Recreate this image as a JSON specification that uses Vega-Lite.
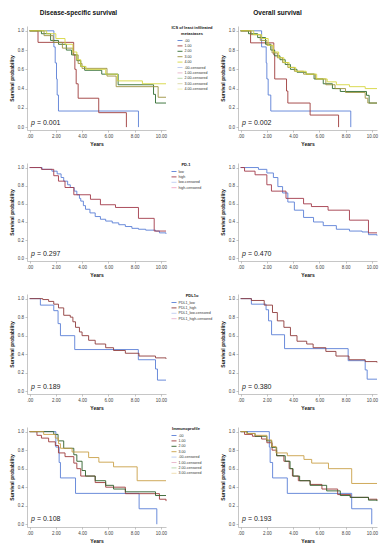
{
"$schema": "https://vega.github.io/schema/vega-lite/v6.json",
"autosize": {"type": "pad"},
"padding": {"left": 9, "top": 9, "right": 0, "bottom": 0},
"background": "white",
"config": {
 "font": "Liberation Sans",
 "view": {"stroke": null},
 "axis": {"grid": false, "labelOverlap": false, "tickCount": 12, "domainColor": "#a0a0a0", "domainWidth": 0.6, "tickColor": "#a0a0a0", "tickSize": 2, "tickWidth": 0.6, "labelFontSize": 4.5, "labelColor": "#444", "labelPadding": 1.5, "titleFontSize": 5, "titleFontWeight": "bold", "titleColor": "#111", "titlePadding": 3},
 "legend": {"offset": 3, "padding": 0, "titleFontSize": 4, "titleFontWeight": "bold", "titleColor": "#111", "titlePadding": 1.5, "titleAnchor": "middle", "labelFontSize": 3.6, "labelColor": "#333", "labelOffset": 1.5, "rowPadding": 0.4, "symbolType": "stroke", "symbolSize": 25, "symbolStrokeWidth": 1, "titleLimit": 100, "labelLimit": 60},
 "title": {"fontSize": 6.5, "fontWeight": "bold", "color": "#111", "offset": 10},
 "line": {"strokeWidth": 0.9}
},
"datasets": {
 "dss_ics": [
  {"g":".00","t":0,"s":1},{"g":".00","t":1.85,"s":0.833},{"g":".00","t":1.95,"s":0.667},{"g":".00","t":2.05,"s":0.5},{"g":".00","t":2.1,"s":0.333},{"g":".00","t":2.2,"s":0.167},{"g":".00","t":8.3,"s":0},
  {"g":"1.00","t":0,"s":1},{"g":"1.00","t":0.64,"s":0.88},{"g":"1.00","t":3.36,"s":0.75},{"g":"1.00","t":3.45,"s":0.6},{"g":"1.00","t":3.55,"s":0.45},{"g":"1.00","t":3.7,"s":0.3},{"g":"1.00","t":5.27,"s":0.15},{"g":"1.00","t":7.38,"s":0},
  {"g":"2.00","t":0,"s":1},{"g":"2.00","t":0.9,"s":0.97},{"g":"2.00","t":1.6,"s":0.9},{"g":"2.00","t":2.2,"s":0.86},{"g":"2.00","t":2.8,"s":0.8},{"g":"2.00","t":3.2,"s":0.75},{"g":"2.00","t":3.6,"s":0.69},{"g":"2.00","t":3.9,"s":0.63},{"g":"2.00","t":4.2,"s":0.59},{"g":"2.00","t":5.5,"s":0.55},{"g":"2.00","t":6.75,"s":0.44},{"g":"2.00","t":9.45,"s":0.34},{"g":"2.00","t":9.6,"s":0.25},{"g":"2.00","t":10.4,"s":0.25},
  {"g":"3.00","t":0,"s":1},{"g":"3.00","t":1.1,"s":0.95},{"g":"3.00","t":1.8,"s":0.88},{"g":"3.00","t":2.5,"s":0.82},{"g":"3.00","t":3.3,"s":0.75},{"g":"3.00","t":3.7,"s":0.66},{"g":"3.00","t":4.0,"s":0.61},{"g":"3.00","t":5.9,"s":0.53},{"g":"3.00","t":6.6,"s":0.42},{"g":"3.00","t":9.8,"s":0.31},{"g":"3.00","t":10.4,"s":0.31},
  {"g":"4.00","t":0,"s":1},{"g":"4.00","t":1.3,"s":0.97},{"g":"4.00","t":2.0,"s":0.92},{"g":"4.00","t":2.7,"s":0.86},{"g":"4.00","t":3.3,"s":0.78},{"g":"4.00","t":3.6,"s":0.7},{"g":"4.00","t":3.9,"s":0.63},{"g":"4.00","t":4.3,"s":0.6},{"g":"4.00","t":5.8,"s":0.55},{"g":"4.00","t":6.7,"s":0.48},{"g":"4.00","t":8.6,"s":0.45},{"g":"4.00","t":10.4,"s":0.45}
 ],
 "os_ics": [
  {"g":".00","t":0,"s":1},{"g":".00","t":1.6,"s":0.833},{"g":".00","t":1.95,"s":0.667},{"g":".00","t":2.0,"s":0.5},{"g":".00","t":2.1,"s":0.333},{"g":".00","t":2.3,"s":0.167},{"g":".00","t":8.4,"s":0},
  {"g":"1.00","t":0,"s":1},{"g":"1.00","t":0.76,"s":0.875},{"g":"1.00","t":2.53,"s":0.75},{"g":"1.00","t":2.6,"s":0.5},{"g":"1.00","t":3.5,"s":0.375},{"g":"1.00","t":3.6,"s":0.25},{"g":"1.00","t":5.3,"s":0.125},{"g":"1.00","t":7.47,"s":0},
  {"g":"2.00","t":0,"s":1},{"g":"2.00","t":0.6,"s":0.97},{"g":"2.00","t":1.3,"s":0.93},{"g":"2.00","t":1.9,"s":0.86},{"g":"2.00","t":2.3,"s":0.8},{"g":"2.00","t":2.6,"s":0.74},{"g":"2.00","t":3.0,"s":0.7},{"g":"2.00","t":3.4,"s":0.65},{"g":"2.00","t":3.8,"s":0.6},{"g":"2.00","t":4.3,"s":0.57},{"g":"2.00","t":5.0,"s":0.55},{"g":"2.00","t":5.6,"s":0.5},{"g":"2.00","t":6.3,"s":0.45},{"g":"2.00","t":7.0,"s":0.4},{"g":"2.00","t":7.6,"s":0.37},{"g":"2.00","t":9.6,"s":0.33},{"g":"2.00","t":9.8,"s":0.25},{"g":"2.00","t":10.4,"s":0.25},
  {"g":"3.00","t":0,"s":1},{"g":"3.00","t":0.8,"s":0.96},{"g":"3.00","t":1.5,"s":0.9},{"g":"3.00","t":2.0,"s":0.85},{"g":"3.00","t":2.4,"s":0.77},{"g":"3.00","t":2.8,"s":0.72},{"g":"3.00","t":3.2,"s":0.67},{"g":"3.00","t":3.6,"s":0.62},{"g":"3.00","t":4.1,"s":0.58},{"g":"3.00","t":4.8,"s":0.55},{"g":"3.00","t":5.7,"s":0.5},{"g":"3.00","t":6.5,"s":0.44},{"g":"3.00","t":7.2,"s":0.4},{"g":"3.00","t":8.0,"s":0.36},{"g":"3.00","t":9.5,"s":0.3},{"g":"3.00","t":9.7,"s":0.25},{"g":"3.00","t":10.4,"s":0.25},
  {"g":"4.00","t":0,"s":1},{"g":"4.00","t":1.0,"s":0.96},{"g":"4.00","t":1.6,"s":0.92},{"g":"4.00","t":2.1,"s":0.85},{"g":"4.00","t":2.5,"s":0.78},{"g":"4.00","t":2.9,"s":0.72},{"g":"4.00","t":3.3,"s":0.67},{"g":"4.00","t":3.7,"s":0.62},{"g":"4.00","t":4.2,"s":0.58},{"g":"4.00","t":5.0,"s":0.55},{"g":"4.00","t":5.8,"s":0.5},{"g":"4.00","t":6.6,"s":0.47},{"g":"4.00","t":7.3,"s":0.44},{"g":"4.00","t":8.3,"s":0.42},{"g":"4.00","t":9.5,"s":0.4},{"g":"4.00","t":10.4,"s":0.4}
 ],
 "dss_pd1": [
  {"g":"low","t":0,"s":1},{"g":"low","t":0.95,"s":0.98},{"g":"low","t":1.7,"s":0.96},{"g":"low","t":2.1,"s":0.93},{"g":"low","t":2.4,"s":0.89},{"g":"low","t":2.6,"s":0.85},{"g":"low","t":2.9,"s":0.81},{"g":"low","t":3.1,"s":0.78},{"g":"low","t":3.4,"s":0.74},{"g":"low","t":3.6,"s":0.7},{"g":"low","t":3.8,"s":0.66},{"g":"low","t":3.9,"s":0.63},{"g":"low","t":4.1,"s":0.58},{"g":"low","t":4.26,"s":0.54},{"g":"low","t":4.6,"s":0.5},{"g":"low","t":5.0,"s":0.46},{"g":"low","t":5.4,"s":0.43},{"g":"low","t":5.8,"s":0.41},{"g":"low","t":6.3,"s":0.39},{"g":"low","t":6.8,"s":0.37},{"g":"low","t":7.3,"s":0.35},{"g":"low","t":7.8,"s":0.33},{"g":"low","t":8.3,"s":0.32},{"g":"low","t":8.85,"s":0.31},{"g":"low","t":9.6,"s":0.3},{"g":"low","t":9.9,"s":0.28},{"g":"low","t":10.4,"s":0.27},
  {"g":"high","t":0,"s":1},{"g":"high","t":0.9,"s":0.98},{"g":"high","t":1.84,"s":0.91},{"g":"high","t":2.2,"s":0.85},{"g":"high","t":2.7,"s":0.78},{"g":"high","t":3.37,"s":0.7},{"g":"high","t":4.64,"s":0.65},{"g":"high","t":5.4,"s":0.59},{"g":"high","t":6.55,"s":0.56},{"g":"high","t":8.3,"s":0.44},{"g":"high","t":9.5,"s":0.3},{"g":"high","t":10.4,"s":0.3}
 ],
 "os_pd1": [
  {"g":"low","t":0,"s":1},{"g":"low","t":1.36,"s":0.98},{"g":"low","t":2.0,"s":0.94},{"g":"low","t":2.5,"s":0.89},{"g":"low","t":2.84,"s":0.79},{"g":"low","t":3.2,"s":0.72},{"g":"low","t":3.6,"s":0.62},{"g":"low","t":4.1,"s":0.53},{"g":"low","t":4.8,"s":0.45},{"g":"low","t":5.56,"s":0.4},{"g":"low","t":6.3,"s":0.36},{"g":"low","t":7.3,"s":0.32},{"g":"low","t":8.3,"s":0.3},{"g":"low","t":9.26,"s":0.29},{"g":"low","t":9.75,"s":0.26},{"g":"low","t":10.4,"s":0.25},
  {"g":"high","t":0,"s":1},{"g":"high","t":0.3,"s":0.96},{"g":"high","t":1.1,"s":0.92},{"g":"high","t":2.0,"s":0.81},{"g":"high","t":2.35,"s":0.74},{"g":"high","t":3.46,"s":0.66},{"g":"high","t":4.8,"s":0.6},{"g":"high","t":5.4,"s":0.57},{"g":"high","t":6.67,"s":0.53},{"g":"high","t":8.3,"s":0.42},{"g":"high","t":9.75,"s":0.28},{"g":"high","t":10.4,"s":0.28}
 ],
 "dss_pdl1": [
  {"g":"PDL1_low","t":0,"s":1},{"g":"PDL1_low","t":0.82,"s":0.93},{"g":"PDL1_low","t":1.84,"s":0.87},{"g":"PDL1_low","t":2.17,"s":0.73},{"g":"PDL1_low","t":2.35,"s":0.6},{"g":"PDL1_low","t":3.44,"s":0.45},{"g":"PDL1_low","t":8.29,"s":0.34},{"g":"PDL1_low","t":9.6,"s":0.24},{"g":"PDL1_low","t":9.75,"s":0.12},{"g":"PDL1_low","t":10.4,"s":0.12},
  {"g":"PDL1_high","t":0,"s":1},{"g":"PDL1_high","t":1.0,"s":0.99},{"g":"PDL1_high","t":1.45,"s":0.97},{"g":"PDL1_high","t":1.84,"s":0.94},{"g":"PDL1_high","t":2.2,"s":0.9},{"g":"PDL1_high","t":2.6,"s":0.82},{"g":"PDL1_high","t":3.1,"s":0.8},{"g":"PDL1_high","t":3.3,"s":0.75},{"g":"PDL1_high","t":3.5,"s":0.69},{"g":"PDL1_high","t":3.8,"s":0.64},{"g":"PDL1_high","t":4.0,"s":0.6},{"g":"PDL1_high","t":4.5,"s":0.55},{"g":"PDL1_high","t":5.0,"s":0.51},{"g":"PDL1_high","t":5.8,"s":0.47},{"g":"PDL1_high","t":6.4,"s":0.44},{"g":"PDL1_high","t":7.3,"s":0.41},{"g":"PDL1_high","t":8.34,"s":0.38},{"g":"PDL1_high","t":9.6,"s":0.36},{"g":"PDL1_high","t":10.4,"s":0.35}
 ],
 "os_pdl1": [
  {"g":"PDL1_low","t":0,"s":1},{"g":"PDL1_low","t":0.82,"s":0.94},{"g":"PDL1_low","t":1.94,"s":0.88},{"g":"PDL1_low","t":2.13,"s":0.76},{"g":"PDL1_low","t":2.36,"s":0.61},{"g":"PDL1_low","t":3.35,"s":0.46},{"g":"PDL1_low","t":8.2,"s":0.33},{"g":"PDL1_low","t":9.5,"s":0.23},{"g":"PDL1_low","t":9.65,"s":0.13},{"g":"PDL1_low","t":10.4,"s":0.13},
  {"g":"PDL1_high","t":0,"s":1},{"g":"PDL1_high","t":0.82,"s":0.98},{"g":"PDL1_high","t":1.8,"s":0.93},{"g":"PDL1_high","t":2.43,"s":0.85},{"g":"PDL1_high","t":2.8,"s":0.76},{"g":"PDL1_high","t":3.3,"s":0.69},{"g":"PDL1_high","t":3.8,"s":0.6},{"g":"PDL1_high","t":4.3,"s":0.54},{"g":"PDL1_high","t":5.04,"s":0.51},{"g":"PDL1_high","t":5.53,"s":0.47},{"g":"PDL1_high","t":6.5,"s":0.43},{"g":"PDL1_high","t":7.27,"s":0.38},{"g":"PDL1_high","t":8.26,"s":0.34},{"g":"PDL1_high","t":9.5,"s":0.32},{"g":"PDL1_high","t":10.4,"s":0.31}
 ],
 "dss_imm": [
  {"g":".00","t":0,"s":1},{"g":".00","t":2.0,"s":0.833},{"g":".00","t":2.25,"s":0.667},{"g":".00","t":2.35,"s":0.5},{"g":".00","t":3.5,"s":0.333},{"g":".00","t":8.35,"s":0.167},{"g":".00","t":9.7,"s":0},
  {"g":"1.00","t":0,"s":1},{"g":"1.00","t":0.56,"s":0.96},{"g":"1.00","t":0.9,"s":0.93},{"g":"1.00","t":1.45,"s":0.89},{"g":"1.00","t":1.96,"s":0.85},{"g":"1.00","t":2.2,"s":0.77},{"g":"1.00","t":2.7,"s":0.73},{"g":"1.00","t":3.37,"s":0.66},{"g":"1.00","t":3.6,"s":0.6},{"g":"1.00","t":3.9,"s":0.52},{"g":"1.00","t":5.0,"s":0.45},{"g":"1.00","t":5.8,"s":0.4},{"g":"1.00","t":7.3,"s":0.33},{"g":"1.00","t":9.9,"s":0.27},{"g":"1.00","t":10.4,"s":0.25},
  {"g":"2.00","t":0,"s":1},{"g":"2.00","t":1.84,"s":0.97},{"g":"2.00","t":2.17,"s":0.9},{"g":"2.00","t":2.6,"s":0.82},{"g":"2.00","t":3.37,"s":0.75},{"g":"2.00","t":3.6,"s":0.68},{"g":"2.00","t":4.0,"s":0.58},{"g":"2.00","t":4.26,"s":0.52},{"g":"2.00","t":5.0,"s":0.47},{"g":"2.00","t":5.8,"s":0.42},{"g":"2.00","t":6.4,"s":0.38},{"g":"2.00","t":7.3,"s":0.35},{"g":"2.00","t":9.6,"s":0.31},{"g":"2.00","t":10.4,"s":0.31},
  {"g":"3.00","t":0,"s":1},{"g":"3.00","t":1.07,"s":0.97},{"g":"3.00","t":1.96,"s":0.93},{"g":"3.00","t":2.2,"s":0.87},{"g":"3.00","t":2.35,"s":0.82},{"g":"3.00","t":3.24,"s":0.78},{"g":"3.00","t":4.5,"s":0.72},{"g":"3.00","t":5.28,"s":0.67},{"g":"3.00","t":6.4,"s":0.62},{"g":"3.00","t":8.2,"s":0.47},{"g":"3.00","t":10.4,"s":0.47}
 ],
 "os_imm": [
  {"g":".00","t":0,"s":1},{"g":".00","t":2.19,"s":0.833},{"g":".00","t":2.25,"s":0.667},{"g":".00","t":2.44,"s":0.5},{"g":".00","t":3.56,"s":0.333},{"g":".00","t":8.47,"s":0.167},{"g":".00","t":10.0,"s":0},
  {"g":"1.00","t":0,"s":1},{"g":"1.00","t":0.3,"s":0.97},{"g":"1.00","t":0.9,"s":0.95},{"g":"1.00","t":1.6,"s":0.92},{"g":"1.00","t":2.0,"s":0.88},{"g":"1.00","t":2.4,"s":0.8},{"g":"1.00","t":2.75,"s":0.74},{"g":"1.00","t":3.3,"s":0.68},{"g":"1.00","t":3.7,"s":0.6},{"g":"1.00","t":3.95,"s":0.52},{"g":"1.00","t":4.4,"s":0.47},{"g":"1.00","t":5.3,"s":0.43},{"g":"1.00","t":6.2,"s":0.38},{"g":"1.00","t":7.4,"s":0.32},{"g":"1.00","t":8.4,"s":0.29},{"g":"1.00","t":9.75,"s":0.27},{"g":"1.00","t":10.4,"s":0.26},
  {"g":"2.00","t":0,"s":1},{"g":"2.00","t":0.5,"s":0.98},{"g":"2.00","t":1.1,"s":0.95},{"g":"2.00","t":2.0,"s":0.9},{"g":"2.00","t":2.37,"s":0.83},{"g":"2.00","t":2.75,"s":0.74},{"g":"2.00","t":3.4,"s":0.68},{"g":"2.00","t":3.77,"s":0.6},{"g":"2.00","t":4.0,"s":0.52},{"g":"2.00","t":4.5,"s":0.47},{"g":"2.00","t":5.3,"s":0.42},{"g":"2.00","t":6.56,"s":0.36},{"g":"2.00","t":7.6,"s":0.31},{"g":"2.00","t":8.35,"s":0.29},{"g":"2.00","t":9.75,"s":0.26},{"g":"2.00","t":10.4,"s":0.25},
  {"g":"3.00","t":0,"s":1},{"g":"3.00","t":0.46,"s":0.98},{"g":"3.00","t":1.1,"s":0.96},{"g":"3.00","t":2.0,"s":0.91},{"g":"3.00","t":2.37,"s":0.84},{"g":"3.00","t":2.7,"s":0.77},{"g":"3.00","t":3.56,"s":0.74},{"g":"3.00","t":4.83,"s":0.7},{"g":"3.00","t":5.42,"s":0.66},{"g":"3.00","t":6.7,"s":0.6},{"g":"3.00","t":8.47,"s":0.44},{"g":"3.00","t":10.4,"s":0.44}
 ]
},
"columns": 2,
"bounds": "flush",
"spacing": {"row": 33, "column": 72},
"resolve": {"scale": {"color": "independent", "x": "independent", "y": "independent"}, "legend": {"color": "independent"}},
"concat": [
 {"width": 139, "height": 104,
  "title": {"text": "Disease-specific survival", "anchor": "middle", "dx": -18},
  "layer": [
   {"data": {"name": "dss_ics"}, "mark": {"type": "line", "interpolate": "step-after"},
    "encoding": {
     "x": {"field": "t", "type": "quantitative", "scale": {"domain": [-0.2, 10.4], "nice": false, "zero": false}, "axis": {"values": [0,2,4,6,8,10], "tickCount": 12, "labelOverlap": false, "labelExpr": "datum.value == 0 ? '.00' : format(datum.value, '.2f')", "title": "Years"}},
     "y": {"field": "s", "type": "quantitative", "scale": {"domain": [-0.03, 1.05], "nice": false}, "axis": {"values": [0,0.2,0.4,0.6,0.8,1], "tickCount": 12, "labelOverlap": false, "format": ".1f", "title": "Survival probability"}},
     "color": {"field": "g", "type": "nominal", "scale": {"domain": [".00","1.00","2.00","3.00","4.00",".00-censored","1.00-censored","2.00-censored","3.00-censored","4.00-censored"], "range": ["#5a7fd6","#9e3b3b","#2f6b2f","#9c9240","#d6d640","#b9c8f0","#e8b4c8","#b5d6a8","#ddd8a6","#f0f0a8"]}, "legend": {"title": ["ICS of least infiltrated", "metastases"]}}
    }},
   {"data": {"values": [{}]}, "mark": {"type": "text", "align": "left", "baseline": "alphabetic", "fontStyle": "italic", "fontSize": 7, "color": "#222"}, "encoding": {"x": {"datum": 0.1}, "y": {"datum": 0.02}, "text": {"value": "p"}}},
   {"data": {"values": [{}]}, "mark": {"type": "text", "align": "left", "baseline": "alphabetic", "dx": 6, "fontSize": 7, "color": "#222"}, "encoding": {"x": {"datum": 0.1}, "y": {"datum": 0.02}, "text": {"value": "= 0.001"}}}
  ]},
 {"width": 139, "height": 104,
  "title": {"text": "Overall survival", "anchor": "middle", "dx": -30},
  "layer": [
   {"data": {"name": "os_ics"}, "mark": {"type": "line", "interpolate": "step-after"},
    "encoding": {
     "x": {"field": "t", "type": "quantitative", "scale": {"domain": [-0.2, 10.4], "nice": false, "zero": false}, "axis": {"values": [0,2,4,6,8,10], "tickCount": 12, "labelOverlap": false, "labelExpr": "datum.value == 0 ? '.00' : format(datum.value, '.2f')", "title": "Years"}},
     "y": {"field": "s", "type": "quantitative", "scale": {"domain": [-0.03, 1.05], "nice": false}, "axis": {"values": [0,0.2,0.4,0.6,0.8,1], "tickCount": 12, "labelOverlap": false, "format": ".1f", "title": "Survival probability"}},
     "color": {"field": "g", "type": "nominal", "scale": {"domain": [".00","1.00","2.00","3.00","4.00"], "range": ["#5a7fd6","#9e3b3b","#2f6b2f","#9c9240","#d6d640"]}, "legend": null}
    }},
   {"data": {"values": [{}]}, "mark": {"type": "text", "align": "left", "baseline": "alphabetic", "fontStyle": "italic", "fontSize": 7, "color": "#222"}, "encoding": {"x": {"datum": 0.1}, "y": {"datum": 0.02}, "text": {"value": "p"}}},
   {"data": {"values": [{}]}, "mark": {"type": "text", "align": "left", "baseline": "alphabetic", "dx": 6, "fontSize": 7, "color": "#222"}, "encoding": {"x": {"datum": 0.1}, "y": {"datum": 0.02}, "text": {"value": "= 0.002"}}}
  ]},
 {"width": 139, "height": 98,
  "layer": [
   {"data": {"name": "dss_pd1"}, "mark": {"type": "line", "interpolate": "step-after"},
    "encoding": {
     "x": {"field": "t", "type": "quantitative", "scale": {"domain": [-0.2, 10.4], "nice": false, "zero": false}, "axis": {"values": [0,2,4,6,8,10], "tickCount": 12, "labelOverlap": false, "labelExpr": "datum.value == 0 ? '.00' : format(datum.value, '.2f')", "title": "Years"}},
     "y": {"field": "s", "type": "quantitative", "scale": {"domain": [-0.03, 1.05], "nice": false}, "axis": {"values": [0,0.2,0.4,0.6,0.8,1], "tickCount": 12, "labelOverlap": false, "format": ".1f", "title": "Survival probability"}},
     "color": {"field": "g", "type": "nominal", "scale": {"domain": ["low","high","low-censored","high-censored"], "range": ["#5a7fd6","#a33a4a","#c0cdf2","#f2a6c4"]}, "legend": {"title": "PD-1"}}
    }},
   {"data": {"values": [{}]}, "mark": {"type": "text", "align": "left", "baseline": "alphabetic", "fontStyle": "italic", "fontSize": 7, "color": "#222"}, "encoding": {"x": {"datum": 0.1}, "y": {"datum": 0.03}, "text": {"value": "p"}}},
   {"data": {"values": [{}]}, "mark": {"type": "text", "align": "left", "baseline": "alphabetic", "dx": 6, "fontSize": 7, "color": "#222"}, "encoding": {"x": {"datum": 0.1}, "y": {"datum": 0.03}, "text": {"value": "= 0.297"}}}
  ]},
 {"width": 139, "height": 98,
  "layer": [
   {"data": {"name": "os_pd1"}, "mark": {"type": "line", "interpolate": "step-after"},
    "encoding": {
     "x": {"field": "t", "type": "quantitative", "scale": {"domain": [-0.2, 10.4], "nice": false, "zero": false}, "axis": {"values": [0,2,4,6,8,10], "tickCount": 12, "labelOverlap": false, "labelExpr": "datum.value == 0 ? '.00' : format(datum.value, '.2f')", "title": "Years"}},
     "y": {"field": "s", "type": "quantitative", "scale": {"domain": [-0.03, 1.05], "nice": false}, "axis": {"values": [0,0.2,0.4,0.6,0.8,1], "tickCount": 12, "labelOverlap": false, "format": ".1f", "title": "Survival probability"}},
     "color": {"field": "g", "type": "nominal", "scale": {"domain": ["low","high"], "range": ["#5a7fd6","#a33a4a"]}, "legend": null}
    }},
   {"data": {"values": [{}]}, "mark": {"type": "text", "align": "left", "baseline": "alphabetic", "fontStyle": "italic", "fontSize": 7, "color": "#222"}, "encoding": {"x": {"datum": 0.1}, "y": {"datum": 0.03}, "text": {"value": "p"}}},
   {"data": {"values": [{}]}, "mark": {"type": "text", "align": "left", "baseline": "alphabetic", "dx": 6, "fontSize": 7, "color": "#222"}, "encoding": {"x": {"datum": 0.1}, "y": {"datum": 0.03}, "text": {"value": "= 0.470"}}}
  ]},
 {"width": 139, "height": 100,
  "layer": [
   {"data": {"name": "dss_pdl1"}, "mark": {"type": "line", "interpolate": "step-after"},
    "encoding": {
     "x": {"field": "t", "type": "quantitative", "scale": {"domain": [-0.2, 10.4], "nice": false, "zero": false}, "axis": {"values": [0,2,4,6,8,10], "tickCount": 12, "labelOverlap": false, "labelExpr": "datum.value == 0 ? '.00' : format(datum.value, '.2f')", "title": "Years"}},
     "y": {"field": "s", "type": "quantitative", "scale": {"domain": [-0.03, 1.05], "nice": false}, "axis": {"values": [0,0.2,0.4,0.6,0.8,1], "tickCount": 12, "labelOverlap": false, "format": ".1f", "title": "Survival probability"}},
     "color": {"field": "g", "type": "nominal", "scale": {"domain": ["PDL1_low","PDL1_high","PDL1_low-censored","PDL1_high-censored"], "range": ["#5a7fd6","#8e3b3b","#c0cdf2","#e8b4d0"]}, "legend": {"title": "PDL1o"}}
    }},
   {"data": {"values": [{}]}, "mark": {"type": "text", "align": "left", "baseline": "alphabetic", "fontStyle": "italic", "fontSize": 7, "color": "#222"}, "encoding": {"x": {"datum": 0.1}, "y": {"datum": 0.02}, "text": {"value": "p"}}},
   {"data": {"values": [{}]}, "mark": {"type": "text", "align": "left", "baseline": "alphabetic", "dx": 6, "fontSize": 7, "color": "#222"}, "encoding": {"x": {"datum": 0.1}, "y": {"datum": 0.02}, "text": {"value": "= 0.189"}}}
  ]},
 {"width": 139, "height": 100,
  "layer": [
   {"data": {"name": "os_pdl1"}, "mark": {"type": "line", "interpolate": "step-after"},
    "encoding": {
     "x": {"field": "t", "type": "quantitative", "scale": {"domain": [-0.2, 10.4], "nice": false, "zero": false}, "axis": {"values": [0,2,4,6,8,10], "tickCount": 12, "labelOverlap": false, "labelExpr": "datum.value == 0 ? '.00' : format(datum.value, '.2f')", "title": "Years"}},
     "y": {"field": "s", "type": "quantitative", "scale": {"domain": [-0.03, 1.05], "nice": false}, "axis": {"values": [0,0.2,0.4,0.6,0.8,1], "tickCount": 12, "labelOverlap": false, "format": ".1f", "title": "Survival probability"}},
     "color": {"field": "g", "type": "nominal", "scale": {"domain": ["PDL1_low","PDL1_high"], "range": ["#5a7fd6","#8e3b3b"]}, "legend": null}
    }},
   {"data": {"values": [{}]}, "mark": {"type": "text", "align": "left", "baseline": "alphabetic", "fontStyle": "italic", "fontSize": 7, "color": "#222"}, "encoding": {"x": {"datum": 0.1}, "y": {"datum": 0.02}, "text": {"value": "p"}}},
   {"data": {"values": [{}]}, "mark": {"type": "text", "align": "left", "baseline": "alphabetic", "dx": 6, "fontSize": 7, "color": "#222"}, "encoding": {"x": {"datum": 0.1}, "y": {"datum": 0.02}, "text": {"value": "= 0.380"}}}
  ]},
 {"width": 139, "height": 100,
  "layer": [
   {"data": {"name": "dss_imm"}, "mark": {"type": "line", "interpolate": "step-after"},
    "encoding": {
     "x": {"field": "t", "type": "quantitative", "scale": {"domain": [-0.2, 10.4], "nice": false, "zero": false}, "axis": {"values": [0,2,4,6,8,10], "tickCount": 12, "labelOverlap": false, "labelExpr": "datum.value == 0 ? '.00' : format(datum.value, '.2f')", "title": "Years"}},
     "y": {"field": "s", "type": "quantitative", "scale": {"domain": [-0.03, 1.05], "nice": false}, "axis": {"values": [0,0.2,0.4,0.6,0.8,1], "tickCount": 12, "labelOverlap": false, "format": ".1f", "title": "Survival probability"}},
     "color": {"field": "g", "type": "nominal", "scale": {"domain": [".00","1.00","2.00","3.00",".00-censored","1.00-censored","2.00-censored","3.00-censored"], "range": ["#5a7fd6","#9e3b3b","#2f5f2a","#c9a048","#b9c8f0","#e8b4c8","#b5d6a8","#eedcae"]}, "legend": {"title": "Immunoprofile"}}
    }},
   {"data": {"values": [{}]}, "mark": {"type": "text", "align": "left", "baseline": "alphabetic", "fontStyle": "italic", "fontSize": 7, "color": "#222"}, "encoding": {"x": {"datum": 0.1}, "y": {"datum": 0.03}, "text": {"value": "p"}}},
   {"data": {"values": [{}]}, "mark": {"type": "text", "align": "left", "baseline": "alphabetic", "dx": 6, "fontSize": 7, "color": "#222"}, "encoding": {"x": {"datum": 0.1}, "y": {"datum": 0.03}, "text": {"value": "= 0.108"}}}
  ]},
 {"width": 139, "height": 100,
  "layer": [
   {"data": {"name": "os_imm"}, "mark": {"type": "line", "interpolate": "step-after"},
    "encoding": {
     "x": {"field": "t", "type": "quantitative", "scale": {"domain": [-0.2, 10.4], "nice": false, "zero": false}, "axis": {"values": [0,2,4,6,8,10], "tickCount": 12, "labelOverlap": false, "labelExpr": "datum.value == 0 ? '.00' : format(datum.value, '.2f')", "title": "Years"}},
     "y": {"field": "s", "type": "quantitative", "scale": {"domain": [-0.03, 1.05], "nice": false}, "axis": {"values": [0,0.2,0.4,0.6,0.8,1], "tickCount": 12, "labelOverlap": false, "format": ".1f", "title": "Survival probability"}},
     "color": {"field": "g", "type": "nominal", "scale": {"domain": [".00","1.00","2.00","3.00"], "range": ["#5a7fd6","#9e3b3b","#2f5f2a","#c9a048"]}, "legend": null}
    }},
   {"data": {"values": [{}]}, "mark": {"type": "text", "align": "left", "baseline": "alphabetic", "fontStyle": "italic", "fontSize": 7, "color": "#222"}, "encoding": {"x": {"datum": 0.1}, "y": {"datum": 0.03}, "text": {"value": "p"}}},
   {"data": {"values": [{}]}, "mark": {"type": "text", "align": "left", "baseline": "alphabetic", "dx": 6, "fontSize": 7, "color": "#222"}, "encoding": {"x": {"datum": 0.1}, "y": {"datum": 0.03}, "text": {"value": "= 0.193"}}}
  ]}
]
}
